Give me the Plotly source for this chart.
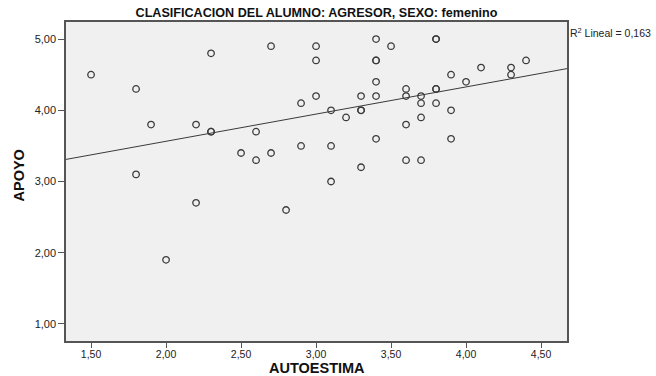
import numpy as np
import plotly.graph_objects as go

# Data (AUTOESTIMA vs APOYO)
autoestima = [1.5, 1.8, 1.8, 1.9, 2.0, 2.2, 2.2, 2.3, 2.3, 2.3, 2.5, 2.6, 2.6, 2.7, 2.7,
              2.8, 2.9, 2.9, 3.0, 3.0, 3.0, 3.1, 3.1, 3.1, 3.2, 3.3, 3.3, 3.3, 3.3,
              3.4, 3.4, 3.4, 3.4, 3.4, 3.4, 3.5, 3.6, 3.6, 3.6, 3.6, 3.7, 3.7, 3.7, 3.7,
              3.8, 3.8, 3.8, 3.8, 3.8, 3.9, 3.9, 3.9, 4.0, 4.1, 4.3, 4.3, 4.4]
apoyo = [4.5, 4.3, 3.1, 3.8, 1.9, 3.8, 2.7, 4.8, 3.7, 3.7, 3.4, 3.7, 3.3, 4.9, 3.4,
         2.6, 4.1, 3.5, 4.9, 4.7, 4.2, 4.0, 3.5, 3.0, 3.9, 4.2, 4.0, 4.0, 3.2,
         5.0, 4.7, 4.7, 4.4, 4.2, 3.6, 4.9, 4.3, 4.2, 3.8, 3.3, 4.2, 4.1, 3.9, 3.3,
         5.0, 5.0, 4.3, 4.3, 4.1, 4.5, 4.0, 3.6, 4.4, 4.6, 4.6, 4.5, 4.7]

x_ticks = [1.5, 2.0, 2.5, 3.0, 3.5, 4.0, 4.5]
x_ticktext = ["1,50", "2,00", "2,50", "3,00", "3,50", "4,00", "4,50"]
y_ticks = [1.0, 2.0, 3.0, 4.0, 5.0]
y_ticktext = ["1,00", "2,00", "3,00", "4,00", "5,00"]

x_range = [1.333, 4.673]
y_range = [0.76, 5.24]

title_text = "CLASIFICACION DEL ALUMNO: AGRESOR, SEXO: femenino"
r2_text = "R<sup>2</sup> Lineal = 0,163"
x_title = "AUTOESTIMA"
y_title = "APOYO"

slope, intercept = np.polyfit(autoestima, apoyo, 1)
line_x = np.array(x_range)
line_y = slope * line_x + intercept

FONT = "Arial, Liberation Sans, sans-serif"

fig = go.Figure()
fig.add_trace(go.Scatter(
    x=line_x, y=line_y, mode="lines",
    line=dict(color="#3a3a3a", width=1),
    hoverinfo="skip", showlegend=False,
))
fig.add_trace(go.Scatter(
    x=autoestima, y=apoyo, mode="markers",
    marker=dict(symbol="circle-open", size=6.5, color="#3a3a3a", line=dict(width=1.3)),
    showlegend=False,
))

fig.update_layout(
    width=656, height=376,
    paper_bgcolor="white",
    plot_bgcolor="#f0f0f0",
    margin=dict(l=66, r=89, t=22, b=35),
    font=dict(family=FONT, color="#222"),
    title=dict(text="<b>" + title_text + "</b>", x=0.4825, xanchor="center",
               y=1 - 13 / 376, yanchor="middle", font=dict(size=12.6, family=FONT, color="#111")),
    annotations=[
        dict(text=r2_text, xref="paper", yref="paper", x=1.0, y=1.0,
             xanchor="left", yanchor="middle", xshift=1, yshift=-10,
             showarrow=False, font=dict(size=10.5, family=FONT, color="#222")),
        dict(text="<b>" + x_title + "</b>", xref="paper", yref="paper", x=0.5, y=0,
             xanchor="center", yanchor="middle", yshift=-27,
             showarrow=False, font=dict(size=14.5, family=FONT, color="#111")),
        dict(text="<b>" + y_title + "</b>", xref="paper", yref="paper", x=0, y=0.5,
             xanchor="center", yanchor="middle", xshift=-48, yshift=6, textangle=-90,
             showarrow=False, font=dict(size=14.5, family=FONT, color="#111")),
    ],
)
fig.update_xaxes(
    range=x_range, tickvals=x_ticks, ticktext=x_ticktext,
    showgrid=False, zeroline=False,
    showline=True, linecolor="#555", linewidth=1.5, mirror=True,
    ticks="outside", ticklen=5, tickcolor="#555", tickwidth=1,
    tickfont=dict(size=10.5, family=FONT, color="#222"),
    ticklabelstandoff=-2,
    automargin=False,
)
fig.update_yaxes(
    range=y_range, tickvals=y_ticks, ticktext=y_ticktext,
    showgrid=False, zeroline=False,
    showline=True, linecolor="#555", linewidth=1.5, mirror=True,
    ticks="outside", ticklen=6, tickcolor="#555", tickwidth=1,
    tickfont=dict(size=11, family=FONT, color="#222"),
    automargin=False,
)

fig.write_html("out.html", config={"displayModeBar": False},
               post_script="document.body.style.margin='0';")
